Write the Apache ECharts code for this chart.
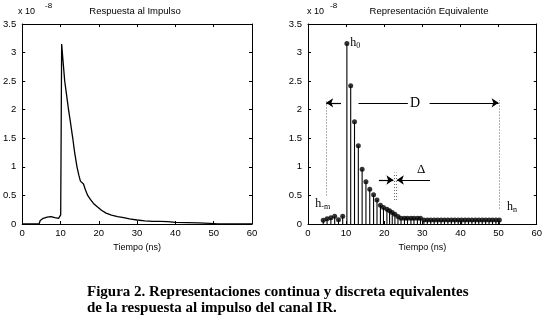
<!DOCTYPE html>
<html><head><meta charset="utf-8">
<script src="https://cdn.jsdelivr.net/npm/echarts/dist/echarts.min.js"></script>
<style>html,body{margin:0;padding:0;background:#fff}#c{width:545px;height:320px}</style>
</head><body><div id="c"></div>
<script>
// Continuous impulse response (x 10^-8)
const contT = [0, 4.4, 4.7, 5.0, 5.5, 6.0, 6.5, 7.0, 7.5, 8.0, 8.5, 9.0, 9.5, 9.9, 10.05, 10.3, 10.6, 11.1, 11.6, 12.1, 12.6, 13.2, 13.7, 14.3, 14.8, 15.2, 15.6, 16.0, 16.5, 17.1, 17.8, 18.6, 19.6, 20.7, 21.9, 23.3, 24.9, 26.5, 28.0, 30.0, 32.0, 34.0, 36.0, 38.0, 40.0, 43.0, 46.0, 49.0, 51.0, 60.0];
const contH = [0, 0, 0.06, 0.08, 0.10, 0.11, 0.12, 0.14, 0.13, 0.12, 0.11, 0.10, 0.10, 0.12, 0.16, 3.15, 2.9, 2.5, 2.25, 2.0, 1.78, 1.5, 1.25, 1.0, 0.85, 0.75, 0.72, 0.70, 0.6, 0.5, 0.43, 0.36, 0.30, 0.24, 0.19, 0.155, 0.13, 0.11, 0.09, 0.07, 0.055, 0.045, 0.045, 0.04, 0.03, 0.025, 0.02, 0.01, 0.002, 0];
// Discrete equivalent representation (x 10^-8)
const stemT = [4.0, 5.0, 6.0, 7.0, 8.0, 9.1, 10.2, 11.2, 12.2, 13.2, 14.2, 15.2, 16.2, 17.2, 18.1, 19.0, 19.8, 20.7, 21.4, 22.1, 22.8, 23.6, 24.4, 25.3, 26.1, 27.0, 27.8, 28.7, 29.5, 30.4, 31.3, 32.2, 33.1, 34.0, 34.9, 35.8, 36.7, 37.6, 38.5, 39.4, 40.3, 41.2, 42.1, 43.0, 43.9, 44.8, 45.7, 46.6, 47.5, 48.4, 49.3, 50.2];
const stemH = [0.064, 0.093, 0.11, 0.134, 0.076, 0.134, 3.16, 2.42, 1.79, 1.37, 0.96, 0.74, 0.61, 0.51, 0.42, 0.33, 0.29, 0.26, 0.23, 0.20, 0.17, 0.13, 0.10, 0.10, 0.10, 0.10, 0.10, 0.10, 0.10, 0.07, 0.07, 0.07, 0.07, 0.07, 0.07, 0.07, 0.07, 0.07, 0.07, 0.07, 0.07, 0.07, 0.07, 0.07, 0.07, 0.07, 0.07, 0.07, 0.07, 0.07, 0.07, 0.07];
const xTicks = [0, 10, 20, 30, 40, 50, 60];
const yTicks = [0, 0.5, 1, 1.5, 2, 2.5, 3, 3.5];

const SANS = '"Liberation Sans", Arial, Helvetica, sans-serif';
const SERIF = '"Liberation Serif", "Times New Roman", serif';

function xAx(grid, pos, withLabel) {
  return {
    type: 'value', gridIndex: grid, position: pos, min: xTicks[0], max: xTicks[xTicks.length - 1], interval: 10,
    axisLine: { show: true, onZero: false, lineStyle: { color: '#000', width: 1 } },
    axisTick: { show: true, inside: true, length: 3, lineStyle: { color: '#000' } },
    axisLabel: { show: withLabel, color: '#000', fontSize: 9.5, fontFamily: SANS, margin: 4 },
    splitLine: { show: false },
    name: withLabel ? 'Tiempo (ns)' : '', nameLocation: 'middle', nameGap: 18,
    nameTextStyle: { color: '#000', fontSize: 9, fontFamily: SANS }
  };
}
function yAx(grid, pos, withLabel) {
  return {
    type: 'value', gridIndex: grid, position: pos, min: yTicks[0], max: yTicks[yTicks.length - 1], interval: 0.5,
    axisLine: { show: true, onZero: false, lineStyle: { color: '#000', width: 1 } },
    axisTick: { show: true, inside: true, length: 3, lineStyle: { color: '#000' } },
    axisLabel: { show: withLabel, color: '#000', fontSize: 9.5, fontFamily: SANS, margin: 6 },
    splitLine: { show: false }
  };
}

const chart = echarts.init(document.getElementById('c'), null, { renderer: 'canvas' });

const arrowLines = [
  [[8.66, 2.12], [4.76, 2.12], 'arrow'],
  [[13.25, 2.12], [26.2, 2.12], 'none'],
  [[31.9, 2.12], [50.0, 2.12], 'arrow'],
  [[18.6, 0.77], [22.4, 0.77], 'arrow'],
  [[32.0, 0.77], [23.3, 0.77], 'arrow']
];
const dottedLines = [
  [[4.76, 0.5], [4.76, 2.17]],
  [[50.2, 0.27], [50.2, 2.17]],
  [[22.5, 0.42], [22.5, 0.9]],
  [[23.2, 0.42], [23.2, 0.9]]
];

chart.setOption({
  animation: false,
  backgroundColor: '#fff',
  grid: [
    { left: 19, top: 24, width: 233, height: 200 },
    { left: 308, top: 24, width: 231, height: 200 }
  ],
  xAxis: [xAx(0, 'bottom', true), xAx(0, 'top', false), xAx(1, 'bottom', true), xAx(1, 'top', false)],
  yAxis: [yAx(0, 'left', true), yAx(0, 'right', false), yAx(1, 'left', true), yAx(1, 'right', false)],
  series: [
    {
      type: 'line', xAxisIndex: 0, yAxisIndex: 0, showSymbol: false, symbol: 'none',
      data: contT.map((t, i) => [t, contH[i]]),
      lineStyle: { color: '#000', width: 1.3 }
    },
    {
      type: 'custom', xAxisIndex: 2, yAxisIndex: 2,
      data: stemT.map((t, i) => [t, stemH[i]]),
      encode: { x: 0, y: 1 },
      renderItem: function (params, api) {
        const top = api.coord([api.value(0), api.value(1)]);
        const base = api.coord([api.value(0), 0]);
        return { type: 'line', shape: { x1: base[0], y1: base[1], x2: top[0], y2: top[1] }, style: { stroke: '#000', lineWidth: 1.1 } };
      }
    },
    {
      type: 'scatter', xAxisIndex: 2, yAxisIndex: 2, symbol: 'circle', symbolSize: 5,
      data: stemT.map((t, i) => [t, stemH[i]]),
      itemStyle: { color: '#000' }
    },
    {
      type: 'scatter', xAxisIndex: 2, yAxisIndex: 2, symbolSize: 0, data: [],
      silent: true,
      markLine: {
        silent: true, animation: false, symbolSize: 7, precision: 4,
        label: { show: false },
        data: arrowLines.map(a => [
          { coord: a[0], symbol: 'none', lineStyle: { color: '#000', width: 1.2, type: 'solid' } },
          { coord: a[1], symbol: a[2] }
        ]).concat(dottedLines.map(a => [
          { coord: a[0], symbol: 'none', lineStyle: { color: '#666', width: 1, type: [1, 2] } },
          { coord: a[1], symbol: 'none' }
        ]))
      }
    }
  ]
});

function P(x, y) { return chart.convertToPixel({ gridIndex: 1 }, [x, y]); }
function T(text, x, y, font, align, va) {
  return { type: 'text', x: x, y: y, silent: true,
    style: { text: text, font: font, fill: '#000', align: align || 'left', textAlign: align || 'left', verticalAlign: va || 'middle', textVerticalAlign: va || 'middle' } };
}
const hFont = '12px ' + SERIF, subFont = '8px ' + SERIF;
const h0 = P(11.1, 3.17), hm = P(1.9, 0.35), hn = P(52.2, 0.3), dP = P(28.1, 2.12), delP = P(29.7, 0.96);
chart.setOption({
  graphic: [
    T('Respuesta al Impulso', 135, 11, '9.5px ' + SANS, 'center'),
    T('Representación Equivalente', 429, 11, '9.5px ' + SANS, 'center'),
    T('x 10', 18, 12, '9px ' + SANS),
    T('-8', 45, 6, '8px ' + SANS),
    T('x 10', 307, 12, '9px ' + SANS),
    T('-8', 330, 6, '8px ' + SANS),
    T('h', h0[0], h0[1], hFont), T('0', h0[0] + 6, h0[1] + 3, subFont),
    T('h', hm[0], hm[1], hFont), T('-m', hm[0] + 6, hm[1] + 3, subFont),
    T('h', hn[0], hn[1], hFont), T('n', hn[0] + 6, hn[1] + 3, subFont),
    T('D', dP[0], dP[1], '14px ' + SERIF, 'center'),
    T('Δ', delP[0], delP[1], '13px ' + SERIF, 'center'),
    T('Figura 2. Representaciones continua y discreta equivalentes', 87, 292, 'bold 15px ' + SERIF),
    T('de la respuesta al impulso del canal IR.', 87, 308, 'bold 15px ' + SERIF)
  ]
});
</script></body></html>
